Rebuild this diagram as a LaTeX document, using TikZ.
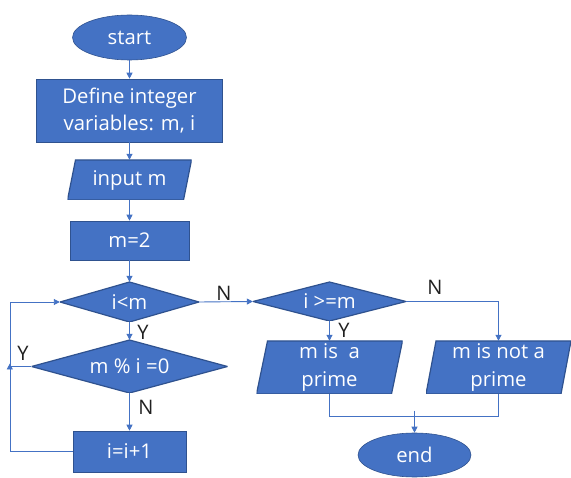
\documentclass[tikz,border=0pt]{standalone}
\usepackage{fontspec}
\setmainfont{Open Sans}
\usetikzlibrary{shapes.geometric,arrows.meta,calc}
\definecolor{boxblue}{HTML}{4472C4}
\definecolor{edgeblue}{HTML}{2F528F}
\definecolor{lineblue}{HTML}{4472C4}
\definecolor{labelink}{HTML}{202020}

\begin{document}
\begin{tikzpicture}[x=1pt,y=-1pt,
  txt/.style={text=white,font=\fontsize{20.3}{27.5}\selectfont,align=center,inner sep=0pt},
  terminal/.style={txt,ellipse,fill=boxblue,draw=edgeblue,line width=0.6pt},
  proc/.style={txt,rectangle,fill=boxblue,draw=edgeblue,line width=0.6pt},
  io/.style={txt,rectangle,path picture={
    \fill[boxblue,draw=edgeblue,line width=1.2pt]
      ($(path picture bounding box.north west)+(#1,0)$) --
      (path picture bounding box.north east) --
      ($(path picture bounding box.south east)+(-#1,0)$) --
      (path picture bounding box.south west) -- cycle;}},
  decision/.style={txt,rectangle,path picture={
    \fill[boxblue,draw=edgeblue,line width=1.2pt]
      (path picture bounding box.north) --
      (path picture bounding box.east) --
      (path picture bounding box.south) --
      (path picture bounding box.west) -- cycle;}},
  wire/.style={draw=lineblue,line width=0.9pt},
  conn/.style={wire,-{Triangle[length=6pt,width=6pt]}},
  lbl/.style={font=\fontsize{20}{24}\selectfont,text=labelink,inner sep=0pt}]

\fill[white] (0,0) rectangle (571,478);
\useasboundingbox (0,0) rectangle (571,478);

% main column
\node[terminal,minimum width=114pt,minimum height=45pt] (start) at (129.5,37.5) {start};
\node[proc,minimum width=186pt,minimum height=63pt] (def) at (129.5,110.5) {Define integer\\variables: m, i};
\node[io=8,minimum width=124pt,minimum height=40pt] (inp) at (129.5,180) {input m};
\node[proc,minimum width=119pt,minimum height=39pt] (m2) at (129.5,240.5) {m=2};
\node[decision,minimum width=139pt,minimum height=40pt] (lt) at (129.5,302) {i<m};
\node[decision,minimum width=196pt,minimum height=53pt] (mod) at (129.5,366.5) {m \% i =0};
\node[proc,minimum width=113pt,minimum height=41pt] (inc) at (129.5,451.5) {i=i+1};

% right branch
\node[decision,minimum width=153pt,minimum height=39pt] (ge) at (329.5,301.5) {i >=m};
\node[io=11,minimum width=146pt,minimum height=53pt] (pr) at (329.5,367.5) {m is\ \ a\\prime};
\node[io=10,minimum width=145pt,minimum height=53pt] (np) at (498.5,367.5) {m is not a\\prime};
\node[terminal,minimum width=113pt,minimum height=44pt] (end) at (414.5,455) {end};

% branch labels
\node[lbl] (nlt) at (224,293) {N};
\node[lbl] (ylt) at (143,332) {Y};
\node[lbl] (ymod) at (23,353) {Y};
\node[lbl] (nmod) at (146,407) {N};
\node[lbl] (yge) at (344,330) {Y};
\node[lbl] (nge) at (435,287) {N};

% connectors
\draw[conn] (start) -- (def);
\draw[conn] (def) -- (inp);
\draw[conn] (inp) -- (m2);
\draw[conn] (m2) -- (lt);
\draw[conn] (lt.east) -- (ge.west);
\draw[conn] (lt.south) -- (mod.north);
\draw[conn] (mod.south) -- (inc.north);
\draw[conn] (inc.west) -- ++(-62.5,0) |- (lt.west);
\draw[conn] (mod.west) -| ++(-21.5,-3);
\draw[conn] (ge.south) -- (pr.north);
\draw[conn] (ge.east) -| (np.north);
\draw[wire] (pr.south) -- ++(0,22) -| (np.south);
\draw[conn] (end.north) ++(0,-22) -- (end.north);
\end{tikzpicture}
\end{document}
